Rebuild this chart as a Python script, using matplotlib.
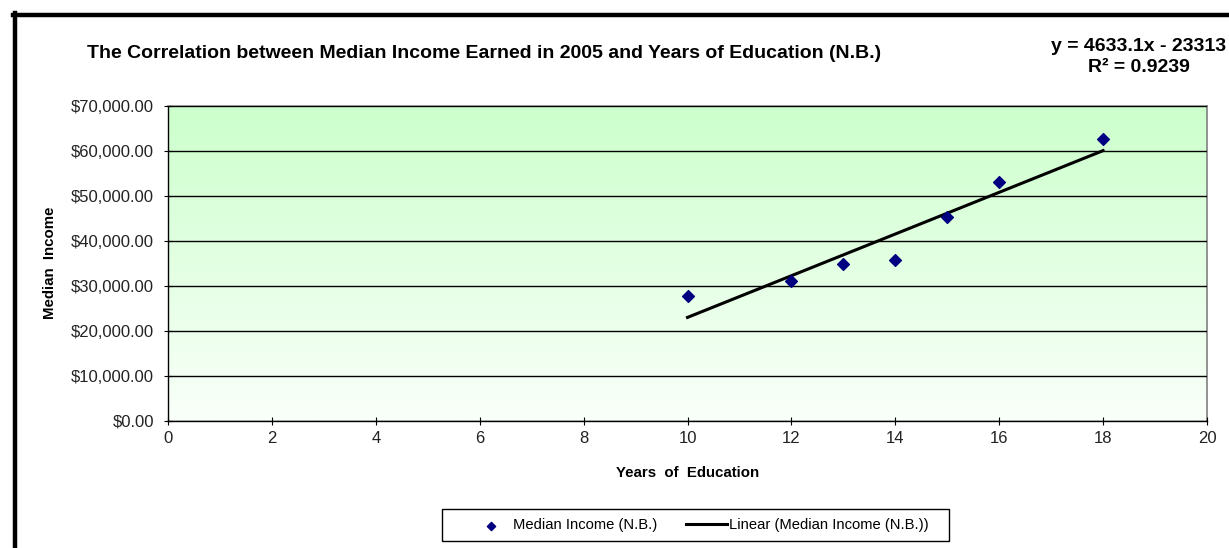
import numpy as np
import matplotlib
matplotlib.use("Agg")
import matplotlib.pyplot as plt
from matplotlib.colors import LinearSegmentedColormap
from matplotlib.lines import Line2D
from matplotlib.patches import Rectangle
from matplotlib.ticker import FuncFormatter, MultipleLocator

plt.rcParams["font.family"] = ["Liberation Sans", "DejaVu Sans"]

# data
years = [10, 12, 13, 14, 15, 16, 18]
income = [27800, 31100, 34900, 35800, 45300, 53100, 62700]
slope = 4633.1
intercept = -23313
r_squared = 0.9239

W, H = 1229, 548
fig = plt.figure(figsize=(W / 100, H / 100), dpi=100)
ax = fig.add_axes([168 / W, 1 - 421 / H, (1207 - 168) / W, (421 - 106) / H])

# green to white plot area gradient
cmap = LinearSegmentedColormap.from_list("bg", ["#fafffa", "#ccffcc"])
ax.imshow(np.linspace(0, 1, 256).reshape(-1, 1), cmap=cmap, aspect="auto",
          extent=[0, 20, 0, 70000], origin="lower", zorder=0)

ax.set_xlim(0, 20)
ax.set_ylim(0, 70000)
ax.yaxis.set_major_locator(MultipleLocator(10000))
ax.xaxis.set_major_locator(MultipleLocator(2))
ax.yaxis.set_major_formatter(FuncFormatter(lambda v, _: f"${v:,.2f}"))
ax.grid(axis="y", color="black", linewidth=1.0, zorder=1)
ax.set_axisbelow(False)

for side in ("top", "right"):
    ax.spines[side].set_color("#808080")
    ax.spines[side].set_linewidth(1.2)
for side in ("left", "bottom"):
    ax.spines[side].set_color("black")
    ax.spines[side].set_linewidth(1.0)
ax.tick_params(direction="inout", length=6, labelsize=12, colors="black",
               labelcolor="#222222")
ax.tick_params(axis="y", pad=7)
ax.tick_params(axis="x", pad=4)

fit_x = np.array([min(years), max(years)])
ax.scatter(years, income, marker="D", s=36, color="#000080", zorder=3,
           label="Median Income (N.B.)")
ax.plot(fit_x, slope * fit_x + intercept, color="black", linewidth=2.2,
        zorder=2, label="Linear (Median Income (N.B.))")

ax.set_xlabel("Years  of  Education", fontsize=10.8, fontweight="bold")
ax.set_ylabel("Median  Income", fontsize=10.8, fontweight="bold")
ax.xaxis.set_label_coords((688 - 168) / 1039, (421 - 473) / 315)
ax.yaxis.set_label_coords((50 - 168) / 1039, (421 - 263) / 315)
ax.xaxis.label.set_va("center")
ax.yaxis.label.set_va("center")

fig.text(484 / W, 1 - 53 / H,
         "The Correlation between Median Income Earned in 2005 and Years of Education (N.B.)",
         ha="center", va="center", fontsize=14, fontweight="bold")
fig.text(1139 / W, 1 - 57 / H,
         f"y = {slope}x - {abs(intercept)}\nR² = {r_squared}",
         ha="center", va="center", fontsize=14, fontweight="bold",
         linespacing=1.35)

# legend box drawn by hand, entries placed inside it
fig.add_artist(Rectangle((442 / W, 1 - 541 / H), (949 - 442) / W, 32 / H,
                         transform=fig.transFigure, facecolor="white",
                         edgecolor="black", linewidth=1.0))
handles, labels = ax.get_legend_handles_labels()
fig.legend(handles, labels, loc="center left", bbox_to_anchor=(470 / W, 1 - 525.5 / H),
           ncol=2, frameon=False, fontsize=10.6, handlelength=2.8,
           handletextpad=0.15, columnspacing=1.9, borderpad=0, borderaxespad=0,
           markerscale=0.7)

# thick outer chart border (only left and top are in frame)
fig.add_artist(Line2D([14.5 / W, 14.5 / W], [0, 1 - 13 / H],
                      color="black", linewidth=3.2, transform=fig.transFigure))
fig.add_artist(Line2D([13 / W, 1], [1 - 15 / H, 1 - 15 / H],
                      color="black", linewidth=3.2, transform=fig.transFigure))

fig.savefig("out.png", dpi=100)
